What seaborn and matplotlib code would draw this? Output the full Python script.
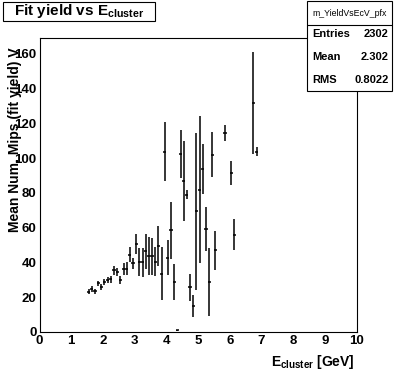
import matplotlib
matplotlib.use("Agg")
import matplotlib.pyplot as plt
import matplotlib.patches as mpatches
import numpy as np
import pandas as pd
import seaborn as sns

# profile bins (centre of 0.1 GeV bins), mean yield and error
e_cluster = [1.55, 1.65, 1.75, 1.85, 1.95, 2.05, 2.15, 2.25, 2.35, 2.45,
             2.55, 2.65, 2.75, 2.85, 2.95, 3.05, 3.15, 3.25, 3.35, 3.45,
             3.55, 3.65, 3.75, 3.85, 3.95, 4.05, 4.15, 4.25, 4.35, 4.45,
             4.55, 4.65, 4.75, 4.85, 4.95, 5.05, 5.15, 5.25, 5.35, 5.45,
             5.55, 5.85, 6.05, 6.15, 6.75, 6.85]
mean_yield = [23.1, 24.6, 23.5, 28.1, 26.0, 28.7, 29.8, 30.2, 35.5, 34.6,
              29.8, 36.3, 36.3, 44.3, 39.4, 50.4, 40.1, 40.1, 46.4, 43.5,
              43.5, 40.5, 49.7, 33.6, 103.7, 42.8, 58.4, 28.8, 1.0, 102.4,
              87.0, 79.0, 25.6, 15.0, 69.3, 81.8, 93.8, 59.0, 28.8, 102.0,
              47.0, 114.5, 91.6, 56.0, 131.6, 103.7]
yield_err = [1.5, 1.7, 1.5, 1.5, 1.7, 1.9, 1.7, 2.2, 2.7, 2.4,
             2.4, 3.5, 3.8, 4.3, 3.3, 5.7, 8.0, 8.4, 10.0, 11.0,
             10.5, 8.1, 11.5, 15.0, 16.9, 10.3, 16.4, 10.2, 0.3, 13.9,
             23.0, 2.4, 7.5, 6.4, 45.0, 42.4, 14.3, 12.7, 19.6, 12.9,
             11.2, 4.6, 6.9, 8.9, 29.3, 2.6]
bin_width = 0.1

stats_name = "m_YieldVsEcV_pfx"
stats_rows = [("Entries", "2302"), ("Mean", "2.302"), ("RMS", "0.8022")]

df = pd.DataFrame({"e": e_cluster, "y": mean_yield, "err": yield_err})

sns.set_theme(style="white")
plt.rcParams["font.family"] = ["Liberation Sans", "DejaVu Sans"]
plt.rcParams["font.weight"] = "bold"
plt.rcParams["text.color"] = "black"
plt.rcParams["xtick.color"] = "black"
plt.rcParams["ytick.color"] = "black"
plt.rcParams["xtick.labelcolor"] = "black"
plt.rcParams["ytick.labelcolor"] = "black"
plt.rcParams["mathtext.fontset"] = "custom"
plt.rcParams["mathtext.bf"] = "Liberation Sans:bold"
plt.rcParams["mathtext.rm"] = "Liberation Sans:bold"

W, H = 396, 372
fig = plt.figure(figsize=(W / 100, H / 100), dpi=100)
fig.patch.set_facecolor("white")
ax = fig.add_axes([39.5 / W, 1 - 332 / H, 317 / W, 294 / H])
ax.set_facecolor("white")

ax.errorbar(df["e"], df["y"], yerr=df["err"], xerr=bin_width / 2,
            fmt="none", ecolor="black", elinewidth=1.1, capsize=0)

ax.set_xlim(0, 10)
ax.set_ylim(0, 169)
ax.set_xticks(np.arange(0, 11, 1))
ax.set_xticks(np.arange(0, 10.01, 0.2), minor=True)
ax.set_yticks(np.arange(0, 161, 20))
ax.set_yticks(np.arange(0, 169, 5), minor=True)
ax.tick_params(which="both", direction="in", top=False, right=False,
               color="black", labelcolor="black", width=0.8, labelsize=9.5, pad=2)
ax.tick_params(which="major", length=6)
ax.tick_params(which="minor", length=3)
for lbl in ax.get_xticklabels() + ax.get_yticklabels():
    lbl.set_fontweight("bold")
for sp in ax.spines.values():
    sp.set_color("black")
    sp.set_linewidth(0.8)

fig.text(355 / W, 1 - 362 / H, r"$\mathbf{E_{cluster}}$ [GeV]", ha="right",
         va="center", fontsize=10, fontweight="bold", color="black")
fig.text(15.5 / W, 1 - 47 / H, "Mean Num. Mips (fit yield) V", rotation=90,
         ha="center", va="top", fontsize=10, fontweight="bold", color="black")

# title box
fig.patches.append(mpatches.Rectangle((3 / W, 1 - 21 / H), 152 / W, 19 / H,
                                      transform=fig.transFigure, facecolor="white",
                                      edgecolor="black", linewidth=0.8))
fig.text(79 / W, 1 - 11 / H, r"Fit yield vs $\mathbf{E_{cluster}}$", ha="center",
         va="center", fontsize=11, fontweight="bold", color="black")

# stats box
fig.patches.append(mpatches.Rectangle((307 / W, 1 - 91 / H), 85 / W, 90 / H,
                                      transform=fig.transFigure, facecolor="white",
                                      edgecolor="black", linewidth=0.8, zorder=5))
fig.add_artist(plt.Line2D([307 / W, 392 / W], [1 - 25 / H, 1 - 25 / H],
                          transform=fig.transFigure, color="black", linewidth=0.8,
                          zorder=6))
fig.text(349.5 / W, 1 - 13 / H, stats_name, ha="center", va="center",
         fontsize=6.3, fontweight="normal", color="black", zorder=7)
for i, (name, val) in enumerate(stats_rows):
    yy = 1 - (34 + i * 23) / H
    fig.text(312 / W, yy, name, ha="left", va="center", fontsize=8,
             fontweight="bold", color="black", zorder=7)
    fig.text(389 / W, yy, val, ha="right", va="center", fontsize=8,
             fontweight="bold", color="black", zorder=7)

fig.savefig("out.png", dpi=100)
